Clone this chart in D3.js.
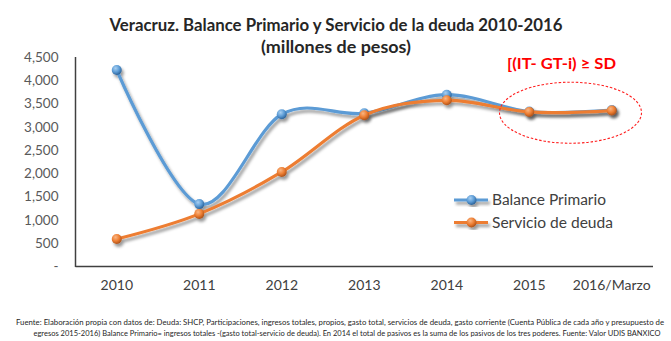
<!DOCTYPE html>
<html>
<head>
<meta charset="utf-8">
<script src="https://cdn.jsdelivr.net/npm/d3@7"></script>
<style>
  body { margin: 0; background: #fff; }
  text { font-family: Lato, "Open Sans", "Noto Sans", sans-serif; }
</style>
</head>
<body>
<svg id="chart" width="671" height="341"></svg>
<script>
// Categories and series (millones de pesos)
const categories = ["2010", "2011", "2012", "2013", "2014", "2015", "2016/Marzo"];
const balancePrimario = [4220, 1340, 3270, 3290, 3690, 3330, 3360];
const servicioDeuda = [590, 1130, 2030, 3250, 3570, 3320, 3350];
const yTicks = [0, 500, 1000, 1500, 2000, 2500, 3000, 3500, 4000, 4500];

const titleLines = [
  "Veracruz. Balance Primario y Servicio de la deuda 2010-2016",
  "(millones de pesos)"
];
const conditionLabel = "[(IT- GT-i) \u2265 SD";
const sourceLines = [
  "Fuente: Elaboración propia con datos de: Deuda: SHCP, Participaciones, ingresos totales, propios, gasto total, servicios de deuda, gasto corriente (Cuenta Pública de cada año y presupuesto de",
  "egresos 2015-2016) Balance Primario= ingresos totales -(gasto total-servicio de deuda). En 2014 el total de pasivos es la suma de los pasivos de los tres poderes. Fuente: Valor UDIS BANXICO"
];

const series = [
  { name: "Balance Primario", values: balancePrimario, color: "#5B9BD5", light: "#a9d0f2", dark: "#2a5f94" },
  { name: "Servicio de deuda", values: servicioDeuda, color: "#ED7D31", light: "#f9b684", dark: "#a9501a" }
];

const svg = d3.select("#chart");
const plot = { left: 75.5, right: 653, top: 57, bottom: 266.5 };

const x = d3.scaleBand().domain(categories).range([plot.left, plot.right]);
const xc = c => x(c) + x.bandwidth() / 2;
const y = d3.scaleLinear().domain([0, 4500]).range([plot.bottom, plot.top]);

// Defs: drop shadow and sphere-like marker gradients
const defs = svg.append("defs");
const shadow = defs.append("filter").attr("id", "shadow")
  .attr("x", "-20%").attr("y", "-20%").attr("width", "140%").attr("height", "140%");
shadow.append("feDropShadow").attr("dx", 2).attr("dy", 3).attr("stdDeviation", 1.6)
  .attr("flood-color", "#000").attr("flood-opacity", 0.4);

series.forEach((s, i) => {
  const g = defs.append("radialGradient").attr("id", "ball" + i)
    .attr("cx", "38%").attr("cy", "32%").attr("r", "70%");
  g.append("stop").attr("offset", "0%").attr("stop-color", s.light);
  g.append("stop").attr("offset", "55%").attr("stop-color", s.color);
  g.append("stop").attr("offset", "100%").attr("stop-color", s.dark);
});

// Title
svg.append("text").attr("x", 336).attr("y", 31).attr("text-anchor", "middle")
  .attr("font-size", 16.5).attr("font-weight", "bold").attr("fill", "#262626")
  .attr("textLength", 453).attr("lengthAdjust", "spacingAndGlyphs")
  .text(titleLines[0]);
svg.append("text").attr("x", 336).attr("y", 53).attr("text-anchor", "middle")
  .attr("font-size", 16.5).attr("font-weight", "bold").attr("fill", "#262626")
  .attr("textLength", 150).attr("lengthAdjust", "spacingAndGlyphs")
  .text(titleLines[1]);

// Y axis labels
const yAxis = d3.axisLeft(y).tickValues(yTicks).tickSize(0).tickPadding(17)
  .tickFormat(d => d === 0 ? "-" : d3.format(",")(d));
const gy = svg.append("g").attr("transform", `translate(${plot.left},0)`).call(yAxis);
gy.select(".domain").remove();
gy.selectAll("text").attr("font-size", 13.5).attr("fill", "#595959")
  .style("font-family", "Lato, 'Open Sans', sans-serif");

// X axis labels
const xAxis = d3.axisBottom(x).tickSize(0).tickPadding(14);
const gx = svg.append("g").attr("transform", `translate(0,${plot.bottom})`).call(xAxis);
gx.select(".domain").remove();
gx.selectAll("text").attr("font-size", 14).attr("fill", "#404040")
  .style("font-family", "Lato, 'Open Sans', sans-serif");

// Axis lines
svg.append("line").attr("x1", plot.left).attr("x2", plot.left)
  .attr("y1", plot.top).attr("y2", plot.bottom + 0.5)
  .attr("stroke", "#404040").attr("stroke-width", 1.5);
svg.append("line").attr("x1", plot.left).attr("x2", plot.right)
  .attr("y1", plot.bottom).attr("y2", plot.bottom)
  .attr("stroke", "#404040").attr("stroke-width", 1.5);

// Smoothed series lines with markers
const line = d3.line()
  .x((d, i) => xc(categories[i]))
  .y(d => y(d))
  .curve(d3.curveCardinal.tension(0));

series.forEach((s, i) => {
  const g = svg.append("g").attr("filter", "url(#shadow)");
  g.append("path").attr("d", line(s.values)).attr("fill", "none")
    .attr("stroke", s.color).attr("stroke-width", 3.2).attr("stroke-linecap", "round");
  g.selectAll("circle").data(s.values).join("circle")
    .attr("cx", (d, j) => xc(categories[j])).attr("cy", d => y(d)).attr("r", 5)
    .attr("fill", `url(#ball${i})`);
});

// Highlighted region (2015 – 2016/Marzo)
const ex = (xc(categories[5]) + xc(categories[6])) / 2;
const ey = y((servicioDeuda[5] + servicioDeuda[6]) / 2) + 1.5;
svg.append("ellipse").attr("cx", ex).attr("cy", ey).attr("rx", 71).attr("ry", 30.5)
  .attr("fill", "none").attr("stroke", "#FF2020").attr("stroke-width", 1.1)
  .attr("stroke-dasharray", "2.5,1.8");
svg.append("text").attr("x", 507).attr("y", 69)
  .attr("font-size", 16).attr("font-weight", "bold").attr("fill", "#FF0000")
  .attr("textLength", 109).attr("lengthAdjust", "spacingAndGlyphs")
  .text(conditionLabel);

// Legend
const legend = svg.append("g");
series.forEach((s, i) => {
  const ly = 200 + i * 22.5;
  const lg = legend.append("g").attr("filter", "url(#shadow)");
  lg.append("line").attr("x1", 454).attr("x2", 488).attr("y1", ly).attr("y2", ly)
    .attr("stroke", s.color).attr("stroke-width", 3.2);
  lg.append("circle").attr("cx", 471.5).attr("cy", ly).attr("r", 5)
    .attr("fill", `url(#ball${i})`);
  legend.append("text").attr("x", 492).attr("y", ly + 5)
    .attr("font-size", 14.5).attr("fill", "#404040")
    .attr("textLength", i === 0 ? 114 : 121).attr("lengthAdjust", "spacingAndGlyphs")
    .text(s.name);
});

// Source note
svg.append("text").attr("x", 340).attr("y", 324.5).attr("text-anchor", "middle")
  .attr("font-size", 6.6).attr("fill", "#262626")
  .attr("textLength", 648).attr("lengthAdjust", "spacingAndGlyphs")
  .text(sourceLines[0]);
svg.append("text").attr("x", 347).attr("y", 336).attr("text-anchor", "middle")
  .attr("font-size", 6.6).attr("fill", "#262626")
  .attr("textLength", 627).attr("lengthAdjust", "spacingAndGlyphs")
  .text(sourceLines[1]);
</script>
</body>
</html>
